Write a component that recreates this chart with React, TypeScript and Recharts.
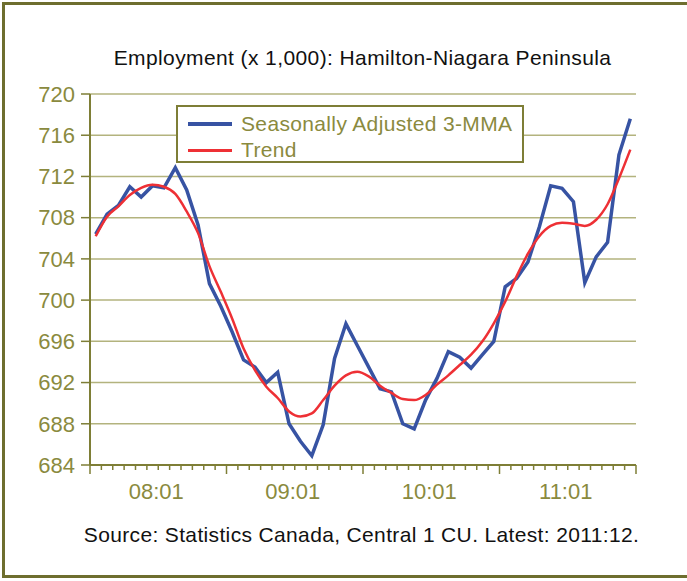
import React from "react";
import { LineChart, Line, XAxis, YAxis, CartesianGrid, Legend } from "recharts";

// Monthly categories 2008:01 .. 2011:12
const YEARS = ["2008", "2009", "2010", "2011"];
const MONTH_NUMS = ["01", "02", "03", "04", "05", "06", "07", "08", "09", "10", "11", "12"];
const MONTHS = YEARS.flatMap((y) => MONTH_NUMS.map((m) => `${y}:${m}`));

// Employment (x 1,000)
const SA_3MMA = [
  706.4, 708.35, 709.2, 711.0, 710.0, 711.1, 710.9, 712.85, 710.7, 707.3, 701.6, 699.4,
  696.9, 694.2, 693.5, 692.0, 693.0, 688.0, 686.3, 684.9, 687.9, 694.35, 697.7, 695.6,
  693.5, 691.4, 691.1, 688.0, 687.5, 690.3, 692.4, 695.0, 694.45, 693.4, 694.7, 696.0,
  701.3, 702.1, 703.7, 707.1, 711.1, 710.85, 709.55, 701.7, 704.2, 705.6, 714.1, 717.6,
];
const TREND = [
  706.2, 708.1, 709.1, 710.2, 710.9, 711.2, 711.0, 710.3, 708.6, 706.5, 703.3, 700.8,
  698.2, 695.3, 693.2, 691.6, 690.5, 689.2, 688.7, 689.0, 690.3, 691.7, 692.7, 693.05,
  692.6, 691.7, 691.0, 690.4, 690.3, 690.8, 691.8, 692.7, 693.7, 694.7, 696.0, 697.75,
  699.85, 702.3, 704.5, 706.2, 707.2, 707.5, 707.4, 707.2, 707.8, 709.3, 711.8, 714.6,
];
const Y_TICKS = [684, 688, 692, 696, 700, 704, 708, 712, 716, 720];

const data = MONTHS.map((m, i) => ({ m, sa: SA_3MMA[i], trend: TREND[i] }));

const OLIVE = "#8a8a3e";
const AXIS = "#7e7e36";
const GRID = "#b3b37e";
const FONT = "'Liberation Sans', Arial, sans-serif";

const PLOT_W = 546;
const STEP = PLOT_W / MONTHS.length;
const PAD = STEP / 2;

function MonthTick(props: any) {
  const { x, y, payload, index } = props;
  const bx = x - STEP / 2;
  const major = index % 12 === 0;
  const last = index === MONTHS.length - 1;
  return (
    <g>
      <line x1={bx} x2={bx} y1={y} y2={y + (major ? 9 : 5)} stroke={AXIS} strokeWidth={1.5} />
      {last && <line x1={x + STEP / 2} x2={x + STEP / 2} y1={y} y2={y + 9} stroke={AXIS} strokeWidth={1.5} />}
      {index % 12 === 6 && (
        <text x={bx - 2} y={y + 34} textAnchor="middle" fill={OLIVE} fontSize={22} fontFamily={FONT}>
          {String(payload.value).slice(2, 4) + ":01"}
        </text>
      )}
    </g>
  );
}

function LegendBox(props: any) {
  const items = props.payload || [];
  return (
    <div
      style={{
        boxSizing: "border-box",
        width: 348,
        height: 58,
        border: `2px solid ${AXIS}`,
        background: "#fff",
        padding: "4px 0 0 10px",
        fontFamily: FONT,
        fontSize: 21,
        letterSpacing: 0.35,
        color: OLIVE,
        lineHeight: "26px",
      }}
    >
      {items.map((it: any) => (
        <div key={it.value} style={{ display: "flex", alignItems: "center" }}>
          <span
            style={{
              display: "inline-block",
              width: 44,
              height: it.dataKey === "sa" ? 4 : 3,
              background: it.color,
              marginRight: 9,
            }}
          />
          <span>{it.value}</span>
        </div>
      ))}
    </div>
  );
}

export default function App() {
  return (
    <div style={{ position: "absolute", left: 0, top: 0, width: 687, height: 581, overflow: "hidden", background: "#fff" }}>
      <div
        style={{
          position: "absolute",
          left: 2,
          top: 2,
          width: 720,
          height: 570,
          border: "3px solid #6e6e2e",
        }}
      />
      <div
        style={{
          position: "absolute",
          left: 0,
          width: 725,
          top: 46,
          textAlign: "center",
          fontFamily: FONT,
          fontSize: 21,
          letterSpacing: 0.4,
          color: "#111",
        }}
      >
        Employment (x 1,000): Hamilton-Niagara Peninsula
      </div>
      <div
        style={{
          position: "absolute",
          left: 0,
          width: 723,
          top: 523,
          textAlign: "center",
          fontFamily: FONT,
          fontSize: 21,
          letterSpacing: 0.35,
          color: "#111",
        }}
      >
        Source: Statistics Canada, Central 1 CU. Latest: 2011:12.
      </div>
      <div style={{ position: "absolute", left: 0, top: 0 }}>
        <LineChart width={687} height={581} data={data} margin={{ top: 94, right: 51, bottom: 86, left: 0 }}>
          <CartesianGrid vertical={false} stroke={GRID} strokeWidth={1.5} />
          <XAxis
            dataKey="m"
            interval={0}
            height={30}
            padding={{ left: PAD, right: PAD }}
            tickLine={false}
            tickSize={0}
            tickMargin={0}
            tick={<MonthTick />}
            axisLine={{ stroke: AXIS, strokeWidth: 2 }}
          />
          <XAxis
            xAxisId="top"
            orientation="top"
            dataKey="m"
            height={0}
            tick={false}
            tickLine={false}
            padding={{ left: PAD, right: PAD }}
            axisLine={{ stroke: AXIS, strokeWidth: 1.5 }}
          />
          <YAxis
            width={90}
            domain={[684, 720]}
            ticks={Y_TICKS}
            interval={0}
            tickSize={9}
            tickMargin={6}
            tick={{ fill: OLIVE, fontSize: 22, fontFamily: FONT }}
            tickLine={{ stroke: AXIS, strokeWidth: 1.5 }}
            axisLine={{ stroke: AXIS, strokeWidth: 2 }}
          />
          <YAxis
            yAxisId="right"
            orientation="right"
            width={0}
            domain={[684, 720]}
            tick={false}
            tickLine={false}
            axisLine={{ stroke: AXIS, strokeWidth: 2 }}
          />
          <Legend
            layout="horizontal"
            verticalAlign="middle"
            align="center"
            wrapperStyle={{ left: 176, top: 105, width: 348, height: 58 }}
            content={<LegendBox />}
          />
          <Line
            dataKey="sa"
            name="Seasonally Adjusted 3-MMA"
            type="linear"
            stroke="#3753a3"
            strokeWidth={3.5}
            dot={false}
            isAnimationActive={false}
          />
          <Line
            dataKey="trend"
            name="Trend"
            type="monotone"
            stroke="#ee3035"
            strokeWidth={2.5}
            dot={false}
            isAnimationActive={false}
          />
        </LineChart>
      </div>
    </div>
  );
}
